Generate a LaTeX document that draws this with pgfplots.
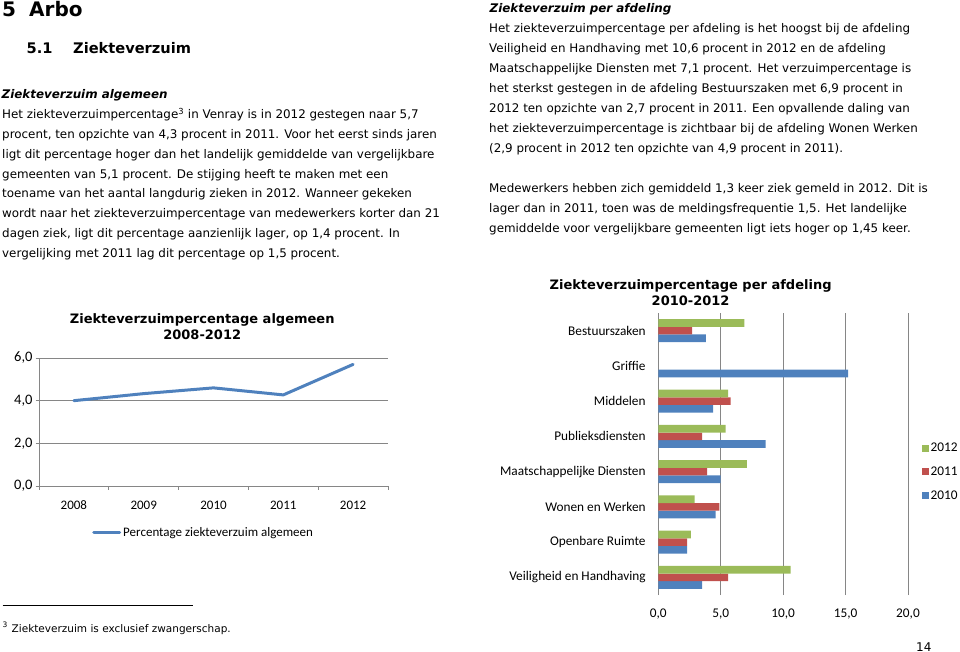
\documentclass[border=0pt]{standalone}
\usepackage{fontspec}
\setmainfont{DejaVu Sans}[ItalicFont={DejaVu Sans Oblique},BoldFont={DejaVu Sans Bold},BoldItalicFont={DejaVu Sans Bold Oblique}]
\newfontfamily\carlito{Carlito}
\usepackage{pgfplots}
\pgfplotsset{compat=1.18}
\definecolor{c2012}{RGB}{155,187,89}
\definecolor{c2011}{RGB}{192,80,77}
\definecolor{c2010}{RGB}{79,129,189}
\definecolor{gridc}{RGB}{134,134,134}
\newcommand{\fs}[1]{\fontsize{#1}{#1}\selectfont}
\newcommand{\Ltxt}[2]{\node[anchor=base west,inner sep=0pt,font=\fs{11.9}] at (2,{-118.8-19.75*#1}) {#2};}
\newcommand{\Rtxt}[2]{\node[anchor=base west,inner sep=0pt,font=\fs{11.9}] at (489,{-32.3-20*#1}) {#2};}
\begin{document}
\begin{tikzpicture}[x=1pt,y=1pt]
\useasboundingbox (0,0) rectangle (960,-652);
% ---------- headings ----------
\node[anchor=base west,inner sep=0pt,font=\fs{20}\bfseries] at (2,-16.7) {5};
\node[anchor=base west,inner sep=0pt,font=\fs{20}\bfseries] at (29,-16.7) {Arbo};
\node[anchor=base west,inner sep=0pt,font=\fs{14.6}\bfseries] at (26.5,-54) {5.1};
\node[anchor=base west,inner sep=0pt,font=\fs{14.6}\bfseries] at (73,-54) {Ziekteverzuim};
% ---------- left column ----------
\node[anchor=base west,inner sep=0pt,font=\fs{11.9}\bfseries\itshape] at (1.5,-98.3) {Ziekteverzuim algemeen};
\Ltxt{0}{Het ziekteverzuimpercentage\textsuperscript{3} in Venray is in 2012 gestegen naar 5,7}
\Ltxt{1}{procent, ten opzichte van 4,3 procent in 2011. Voor het eerst sinds jaren}
\Ltxt{2}{ligt dit percentage hoger dan het landelijk gemiddelde van vergelijkbare}
\Ltxt{3}{gemeenten van 5,1 procent. De stijging heeft te maken met een}
\Ltxt{4}{toename van het aantal langdurig zieken in 2012. Wanneer gekeken}
\Ltxt{5}{wordt naar het ziekteverzuimpercentage van medewerkers korter dan 21}
\Ltxt{6}{dagen ziek, ligt dit percentage aanzienlijk lager, op 1,4 procent. In}
\Ltxt{7}{vergelijking met 2011 lag dit percentage op 1,5 procent.}
% ---------- right column ----------
\node[anchor=base west,inner sep=0pt,font=\fs{11.9}\bfseries\itshape] at (489.5,-12.3) {Ziekteverzuim per afdeling};
\Rtxt{0}{Het ziekteverzuimpercentage per afdeling is het hoogst bij de afdeling}
\Rtxt{1}{Veiligheid en Handhaving met 10,6 procent in 2012 en de afdeling}
\Rtxt{2}{Maatschappelijke Diensten met 7,1 procent. Het verzuimpercentage is}
\Rtxt{3}{het sterkst gestegen in de afdeling Bestuurszaken met 6,9 procent in}
\Rtxt{4}{2012 ten opzichte van 2,7 procent in 2011. Een opvallende daling van}
\Rtxt{5}{het ziekteverzuimpercentage is zichtbaar bij de afdeling Wonen Werken}
\Rtxt{6}{(2,9 procent in 2012 ten opzichte van 4,9 procent in 2011).}
\Rtxt{8}{Medewerkers hebben zich gemiddeld 1,3 keer ziek gemeld in 2012. Dit is}
\Rtxt{9}{lager dan in 2011, toen was de meldingsfrequentie 1,5. Het landelijke}
\Rtxt{10}{gemiddelde voor vergelijkbare gemeenten ligt iets hoger op 1,45 keer.}
% ---------- footnote and page number ----------
\draw[line width=0.7pt] (2.7,-605) -- (192.7,-605);
\node[anchor=base west,inner sep=0pt,font=\fs{7.5}] at (2.5,-627) {3};
\node[anchor=base west,inner sep=0pt,font=\fs{10.5}] at (11.5,-632.7) {Ziekteverzuim is exclusief zwangerschap.};
\node[anchor=base west,inner sep=0pt,font=\fs{12}] at (916,-651) {14};
% ---------- chart titles ----------
\node[anchor=base,inner sep=0pt,font=\fs{13}\bfseries] at (202.2,-323.3) {Ziekteverzuimpercentage algemeen};
\node[anchor=base,inner sep=0pt,font=\fs{13}\bfseries] at (202.2,-339) {2008-2012};
\node[anchor=base,inner sep=0pt,font=\fs{13}\bfseries] at (690.6,-289.3) {Ziekteverzuimpercentage per afdeling};
\node[anchor=base,inner sep=0pt,font=\fs{13}\bfseries] at (690.6,-305) {2010-2012};
% ---------- line chart ----------
\begin{axis}[
  at={(39pt,-486pt)}, anchor=south west,
  scale only axis, width=349pt, height=128pt,
  xmin=0.5, xmax=5.5, ymin=0, ymax=6,
  xtick={1,2,3,4,5},
  xticklabels={2008,2009,2010,2011,2012},
  minor xtick={0.5,1.5,2.5,3.5,4.5,5.5},
  ytick={0,2,4,6}, minor ytick={0,2,4,6},
  ymajorgrids, grid style={gridc,line width=0.8pt},
  axis x line*=bottom, axis y line*=left,
  axis line style={gridc,line width=0.8pt,-},
  every outer x axis line/.append style={-},
  every outer y axis line/.append style={-},
  tick align=outside, major tick length=0pt, minor tick length=3.5pt,
  tick style={gridc,line width=0.8pt},
  xticklabel style={font=\carlito\fs{13},yshift=-11.5pt},
  yticklabel style={font=\carlito\fs{14.5},xshift=-3pt},
  legend entries={Percentage ziekteverzuim algemeen},
  legend style={at={(0.152,-0.367)},anchor=west,draw=none,fill=none,inner sep=0pt,font=\carlito\fs{13}},
  legend image code/.code={\draw[#1] (0pt,0pt) -- (26pt,0pt);},
  /pgf/number format/assume math mode=true,
  /pgf/number format/use comma,
  /pgf/number format/fixed,
  /pgf/number format/fixed zerofill,
  /pgf/number format/precision=1,
]
\addplot[color=c2010,line width=3pt,line cap=round,line join=round,mark=none]
  coordinates {(1,4.0) (2,4.33) (3,4.6) (4,4.27) (5,5.7)};
\end{axis}
% ---------- bar chart ----------
\begin{axis}[
  at={(658.3pt,-595pt)}, anchor=south west,
  scale only axis, width=249.7pt, height=282pt,
  xbar=0pt, bar width=7.7pt,
  xmin=0, xmax=20, ymin=0.5, ymax=8.5,
  xtick={0,5,10,15,20}, ytick={1,2,3,4,5,6,7,8},
  yticklabels={Veiligheid en Handhaving,Openbare Ruimte,Wonen en Werken,Maatschappelijke Diensten,Publieksdiensten,Middelen,Griffie,Bestuurszaken},
  xmajorgrids, grid style={gridc,line width=0.8pt},
  axis line style={draw=none},
  tick style={draw=none},
  ticklabel style={font=\carlito\fs{13.3}},
  yticklabel style={xshift=-4.9pt},
  xticklabel style={yshift=-10.4pt},
  reverse legend,
  legend entries={2010,2011,2012},
  legend style={at={(1.054,0.547)},anchor=north west,draw=none,fill=none,inner sep=0pt,row sep=9.8pt,font=\carlito\fs{13.3}},
  legend image code/.code={\fill[#1] (0pt,-3.5pt) rectangle (7pt,3.5pt);},
  /pgf/number format/assume math mode=true,
  /pgf/number format/use comma,
  /pgf/number format/fixed,
  /pgf/number format/fixed zerofill,
  /pgf/number format/precision=1,
]
\addplot[fill=c2010,draw=none] coordinates {(3.8,8) (15.2,7) (4.4,6) (8.6,5) (5.0,4) (4.6,3) (2.3,2) (3.5,1)};
\addplot[fill=c2011,draw=none] coordinates {(2.7,8) (5.8,6) (3.5,5) (3.9,4) (4.9,3) (2.3,2) (5.6,1)};
\addplot[fill=c2012,draw=none] coordinates {(6.9,8) (5.6,6) (5.4,5) (7.1,4) (2.9,3) (2.6,2) (10.6,1)};
\end{axis}
\end{tikzpicture}
\end{document}
